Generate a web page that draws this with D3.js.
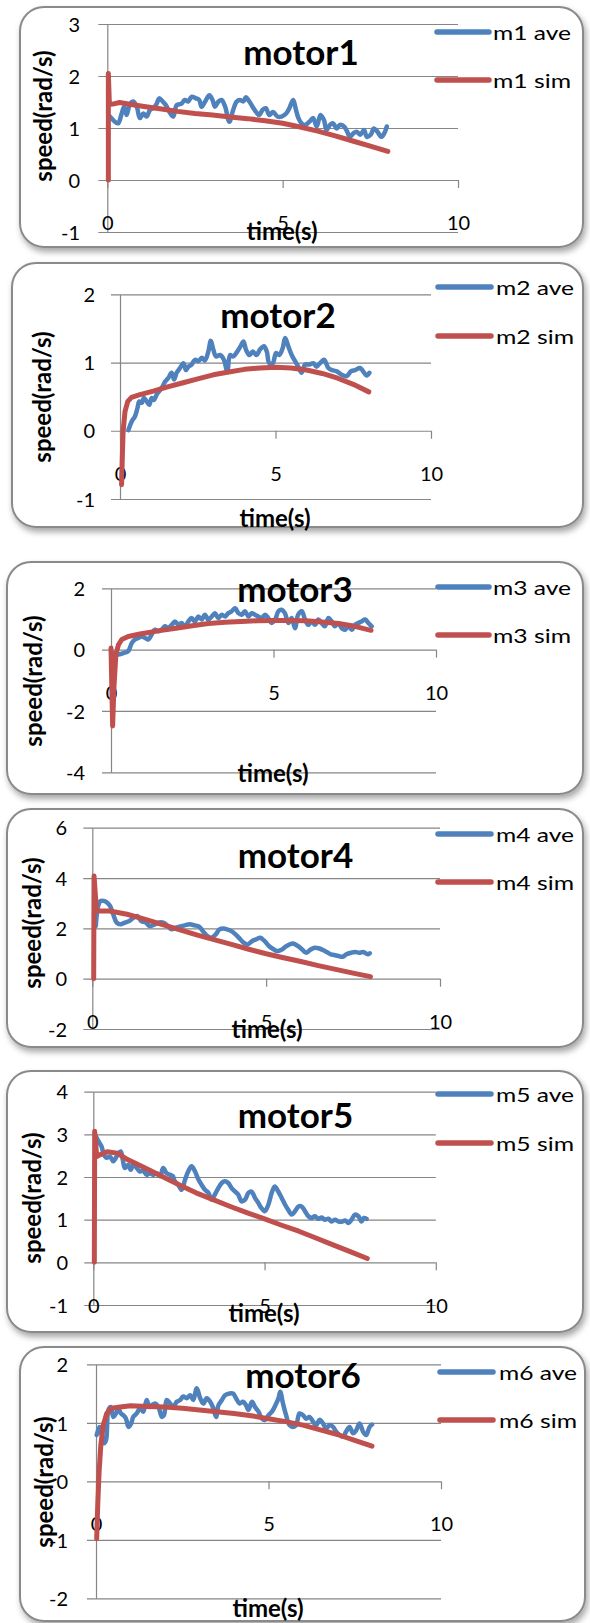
<!DOCTYPE html>
<html>
<head>
<meta charset="utf-8">
<script src="https://cdn.jsdelivr.net/npm/d3@7"></script>
<style>
  html, body { margin: 0; padding: 0; background: #fff; }
  svg { display: block; font-family: Lato, "Open Sans", sans-serif; }
</style>
</head>
<body>
<svg id="chart" width="590" height="1623"></svg>
<script>
// ---- data: time (s) / speed (rad/s) pairs per motor ----
const motorTitles = ["motor1", "motor2", "motor3", "motor4", "motor5", "motor6"];
const aveLabels = ["m1 ave", "m2 ave", "m3 ave", "m4 ave", "m5 ave", "m6 ave"];
const simLabels = ["m1 sim", "m2 sim", "m3 sim", "m4 sim", "m5 sim", "m6 sim"];
const xTicks = [0, 5, 10];
const yTicks1 = [-1, 0, 1, 2, 3];
const yTicks2 = [-1, 0, 1, 2];
const yTicks3 = [-4, -2, 0, 2];
const yTicks4 = [-2, 0, 2, 4, 6];
const yTicks5 = [-1, 0, 1, 2, 3, 4];
const yTicks6 = [-2, -1, 0, 1, 2];

const m1Ave = [[0.08,1.22],[0.22,1.12],[0.31,1.09],[0.41,1.28],[0.48,1.41],[0.55,1.25],[0.65,1.47],[0.74,1.51],[0.84,1.41],[0.93,1.19],[1.03,1.28],[1.12,1.22],[1.22,1.35],[1.31,1.38],[1.41,1.47],[1.48,1.57],[1.58,1.51],[1.67,1.44],[1.77,1.31],[1.88,1.22],[1.98,1.44],[2.12,1.47],[2.21,1.54],[2.31,1.51],[2.40,1.60],[2.53,1.57],[2.62,1.54],[2.69,1.41],[2.79,1.51],[2.91,1.63],[3.00,1.54],[3.07,1.41],[3.17,1.51],[3.26,1.54],[3.36,1.41],[3.48,1.12],[3.59,1.35],[3.69,1.51],[3.78,1.54],[3.88,1.51],[3.95,1.59],[4.05,1.51],[4.14,1.41],[4.24,1.31],[4.33,1.25],[4.43,1.35],[4.52,1.38],[4.62,1.25],[4.73,1.31],[4.85,1.22],[4.97,1.22],[5.10,1.28],[5.19,1.38],[5.30,1.54],[5.38,1.35],[5.45,1.19],[5.54,1.09],[5.64,1.06],[5.76,1.12],[5.87,1.19],[5.97,1.03],[6.08,1.25],[6.18,1.15],[6.25,0.96],[6.35,1.06],[6.44,1.09],[6.54,0.99],[6.63,1.06],[6.75,1.03],[6.84,0.93],[6.92,0.83],[7.02,0.90],[7.11,0.93],[7.21,0.87],[7.32,0.96],[7.40,0.83],[7.51,0.87],[7.60,0.99],[7.70,0.93],[7.82,0.83],[7.92,0.93],[7.97,1.03]];
const m1Sim = [[0.03,0],[0.03,2.05],[0.06,1.45],[0.15,1.46],[0.35,1.49],[0.6,1.46],[1,1.42],[1.5,1.37],[2,1.32],[2.5,1.28],[3,1.25],[3.5,1.21],[4,1.18],[4.5,1.14],[5,1.09],[5.5,1.02],[6,0.94],[6.5,0.85],[7,0.75],[7.5,0.65],[8,0.55]];

const m2Ave = [[0.27,0.01],[0.38,0.14],[0.48,0.21],[0.56,0.33],[0.62,0.43],[0.70,0.41],[0.77,0.48],[0.86,0.43],[0.94,0.38],[1.02,0.48],[1.09,0.45],[1.18,0.53],[1.26,0.58],[1.37,0.65],[1.45,0.72],[1.55,0.77],[1.66,0.85],[1.74,0.75],[1.82,0.85],[1.93,0.92],[2.04,0.99],[2.12,0.89],[2.20,0.94],[2.30,0.97],[2.41,1.04],[2.52,1.02],[2.63,1.07],[2.73,1.03],[2.84,1.16],[2.92,1.32],[3.00,1.19],[3.09,1.09],[3.22,1.11],[3.34,1.04],[3.45,0.87],[3.54,1.11],[3.64,1.09],[3.77,1.16],[3.88,1.24],[3.97,1.31],[4.05,1.19],[4.16,1.11],[4.27,1.16],[4.39,1.11],[4.50,1.19],[4.63,1.24],[4.72,1.16],[4.80,0.99],[4.91,0.99],[5.02,1.14],[5.12,1.11],[5.23,1.21],[5.31,1.36],[5.41,1.24],[5.52,1.11],[5.63,1.02],[5.73,0.94],[5.84,0.85],[5.95,0.97],[6.09,0.97],[6.22,0.99],[6.32,0.94],[6.43,0.99],[6.56,1.04],[6.70,0.92],[6.81,0.89],[6.97,0.87],[7.13,0.82],[7.29,0.80],[7.42,0.87],[7.56,0.89],[7.72,0.92],[7.82,0.87],[7.93,0.81],[8.02,0.85]];
const m2Sim = [[0.05,-0.79],[0.08,-0.30],[0.10,-0.01],[0.16,0.28],[0.25,0.43],[0.37,0.49],[0.64,0.53],[1.07,0.58],[1.5,0.64],[2,0.70],[2.5,0.76],[3,0.82],[3.5,0.86],[4,0.90],[4.5,0.92],[5,0.93],[5.5,0.92],[6,0.89],[6.5,0.84],[7,0.77],[7.5,0.68],[8,0.57]];

const m3Ave = [[0.10,-0.11],[0.23,-0.16],[0.38,-0.11],[0.53,-0.05],[0.64,0.22],[0.74,0.33],[0.84,0.38],[0.94,0.43],[1.05,0.38],[1.15,0.33],[1.25,0.49],[1.35,0.65],[1.46,0.60],[1.56,0.65],[1.66,0.76],[1.76,0.70],[1.87,0.81],[1.97,0.92],[2.07,0.81],[2.17,0.87],[2.28,0.76],[2.38,0.92],[2.48,1.03],[2.58,0.92],[2.69,1.08],[2.79,0.98],[2.89,1.14],[2.99,0.98],[3.10,1.08],[3.20,1.19],[3.30,1.03],[3.41,1.14],[3.51,1.08],[3.61,1.19],[3.71,1.25],[3.82,1.35],[3.92,1.19],[4.02,1.14],[4.12,1.25],[4.23,1.08],[4.33,1.19],[4.43,1.14],[4.53,1.08],[4.64,1.03],[4.74,1.14],[4.84,1.03],[4.94,0.87],[5.05,0.98],[5.15,1.25],[5.25,1.30],[5.35,1.19],[5.46,0.87],[5.56,1.03],[5.66,0.70],[5.76,1.14],[5.87,1.25],[5.97,0.98],[6.07,0.81],[6.17,0.92],[6.28,0.81],[6.38,0.98],[6.48,0.87],[6.58,0.76],[6.69,1.03],[6.79,0.92],[6.89,0.76],[6.99,0.87],[7.10,0.70],[7.20,0.65],[7.30,0.76],[7.41,0.65],[7.51,0.81],[7.61,0.87],[7.71,0.92],[7.82,0.98],[7.92,0.87],[8.02,0.76]];
const m3Sim = [[0,0.05],[0.05,-2.49],[0.09,-1.25],[0.15,-0.16],[0.23,0.16],[0.33,0.33],[0.53,0.43],[0.89,0.51],[1.5,0.62],[2,0.70],[2.5,0.78],[3,0.85],[3.5,0.89],[4,0.92],[4.5,0.94],[5,0.95],[5.5,0.95],[6,0.94],[6.5,0.90],[7,0.85],[7.5,0.76],[8,0.63]];

const m4Ave = [[0.10,2.09],[0.17,2.89],[0.24,3.09],[0.33,3.09],[0.43,3.02],[0.51,2.89],[0.60,2.56],[0.70,2.23],[0.81,2.16],[0.94,2.23],[1.06,2.29],[1.18,2.42],[1.29,2.49],[1.41,2.29],[1.54,2.23],[1.65,2.09],[1.80,2.16],[1.92,2.23],[2.04,2.23],[2.15,2.12],[2.28,1.96],[2.40,2.03],[2.51,2.07],[2.66,2.12],[2.80,2.16],[2.94,2.12],[3.07,2.07],[3.18,1.89],[3.30,1.70],[3.42,1.63],[3.55,1.76],[3.66,1.96],[3.78,1.99],[3.87,1.96],[4.00,1.89],[4.12,1.76],[4.24,1.59],[4.35,1.43],[4.47,1.36],[4.60,1.50],[4.71,1.56],[4.83,1.63],[4.95,1.50],[5.08,1.30],[5.19,1.19],[5.31,1.10],[5.43,1.14],[5.55,1.26],[5.67,1.36],[5.78,1.40],[5.91,1.30],[6.03,1.17],[6.15,1.03],[6.26,1.14],[6.39,1.23],[6.51,1.21],[6.63,1.14],[6.74,1.06],[6.86,0.97],[6.96,0.94],[7.08,0.90],[7.20,0.87],[7.31,0.97],[7.44,1.03],[7.56,1.06],[7.68,1.03],[7.79,1.06],[7.92,0.97],[7.98,1.01]];
const m4Sim = [[0.04,0],[0.05,4.08],[0.12,2.69],[0.5,2.69],[1,2.56],[1.5,2.37],[2,2.16],[2.5,1.95],[3,1.74],[3.5,1.55],[4,1.36],[4.5,1.17],[5,0.99],[5.5,0.83],[6,0.68],[6.5,0.52],[7,0.37],[7.5,0.22],[8,0.08]];

const m5Ave = [[0.05,2.99],[0.15,2.84],[0.24,2.72],[0.31,2.52],[0.39,2.45],[0.49,2.48],[0.58,2.37],[0.66,2.45],[0.73,2.56],[0.80,2.60],[0.86,2.41],[0.92,2.21],[1.02,2.29],[1.09,2.17],[1.17,2.29],[1.27,2.21],[1.36,2.13],[1.46,2.15],[1.56,2.05],[1.65,2.09],[1.75,2.05],[1.85,2.09],[1.95,2.02],[2.04,2.21],[2.14,2.09],[2.24,2.05],[2.32,2.02],[2.38,1.90],[2.48,1.82],[2.58,1.70],[2.68,1.94],[2.77,2.13],[2.87,2.25],[2.97,2.13],[3.07,1.94],[3.16,1.82],[3.26,1.70],[3.36,1.63],[3.45,1.47],[3.55,1.59],[3.65,1.74],[3.75,1.86],[3.84,1.90],[3.94,1.86],[4.04,1.74],[4.14,1.66],[4.23,1.59],[4.33,1.43],[4.43,1.47],[4.53,1.63],[4.62,1.66],[4.72,1.51],[4.82,1.39],[4.91,1.27],[5.01,1.20],[5.11,1.35],[5.21,1.63],[5.30,1.78],[5.40,1.66],[5.50,1.51],[5.60,1.35],[5.69,1.23],[5.79,1.12],[5.89,1.20],[5.99,1.31],[6.08,1.31],[6.18,1.20],[6.28,1.08],[6.37,1.04],[6.47,1.08],[6.57,1.02],[6.67,1.05],[6.76,1.00],[6.86,1.02],[6.96,0.96],[7.06,1.00],[7.15,0.96],[7.25,0.95],[7.35,0.98],[7.45,0.92],[7.54,1.00],[7.64,1.12],[7.74,1.08],[7.83,0.96],[7.90,1.04],[7.98,1.02]];
const m5Sim = [[0.03,0],[0.04,3.07],[0.10,2.48],[0.19,2.52],[0.4,2.59],[0.7,2.56],[1,2.41],[1.5,2.22],[2,2.02],[2.5,1.82],[3,1.63],[3.5,1.47],[4,1.31],[4.5,1.16],[5,1.02],[5.5,0.87],[6,0.73],[6.5,0.57],[7,0.41],[7.5,0.25],[8,0.09]];

const m6Ave = [[0.02,0.79],[0.10,0.93],[0.16,0.82],[0.23,0.65],[0.29,0.70],[0.36,1.22],[0.43,1.27],[0.50,1.10],[0.58,1.16],[0.65,1.25],[0.72,1.16],[0.79,1.13],[0.87,1.07],[0.94,0.93],[1.02,0.99],[1.08,1.10],[1.18,1.16],[1.28,1.25],[1.37,1.19],[1.47,1.39],[1.55,1.27],[1.62,1.30],[1.71,1.33],[1.81,1.27],[1.91,1.10],[1.97,1.13],[2.05,1.39],[2.15,1.33],[2.24,1.27],[2.34,1.36],[2.44,1.39],[2.53,1.45],[2.63,1.42],[2.73,1.47],[2.82,1.39],[2.92,1.59],[3.02,1.42],[3.11,1.33],[3.21,1.42],[3.31,1.36],[3.40,1.25],[3.48,1.10],[3.55,1.30],[3.65,1.39],[3.74,1.47],[3.87,1.50],[3.97,1.50],[4.06,1.42],[4.16,1.33],[4.26,1.36],[4.35,1.30],[4.42,1.22],[4.52,1.36],[4.61,1.27],[4.71,1.19],[4.81,1.07],[4.90,1.05],[5.00,1.13],[5.10,1.19],[5.20,1.30],[5.29,1.42],[5.34,1.53],[5.42,1.33],[5.51,1.13],[5.61,0.96],[5.71,0.93],[5.80,0.96],[5.90,1.16],[6.00,1.13],[6.09,1.07],[6.19,1.10],[6.29,1.02],[6.38,0.96],[6.48,1.05],[6.58,0.99],[6.67,0.90],[6.77,0.96],[6.87,0.93],[6.96,0.85],[7.06,0.79],[7.16,0.76],[7.25,0.85],[7.35,0.93],[7.45,0.82],[7.54,0.87],[7.64,0.99],[7.74,0.85],[7.83,0.79],[7.93,0.93],[8.00,0.97]];
const m6Sim = [[0.02,-0.98],[0.05,-0.41],[0.09,0.16],[0.14,0.62],[0.21,0.96],[0.31,1.16],[0.45,1.25],[0.70,1.27],[1,1.29],[1.5,1.28],[2,1.27],[2.5,1.25],[3,1.22],[3.5,1.19],[4,1.16],[4.5,1.12],[5,1.07],[5.5,1.02],[6,0.96],[6.5,0.88],[7,0.80],[7.5,0.70],[8,0.60]];

const aveSeries = [m1Ave, m2Ave, m3Ave, m4Ave, m5Ave, m6Ave];
const simSeries = [m1Sim, m2Sim, m3Sim, m4Sim, m5Sim, m6Sim];
const yTickSets = [yTicks1, yTicks2, yTicks3, yTicks4, yTicks5, yTicks6];

// ---- per-panel layout (pixels) ----
const layout = [
  { box: [20, 7, 563, 240],    px: [107.3, 458],  py: [232, 24],      yLab: 80, title: [301, 65],   xTitle: [282, 231],  yTitle: [43, 116],  leg: [32, 80],     legX: [437, 489, 493] },
  { box: [12, 263, 571, 264],  px: [120, 431],    py: [499, 294.3],   yLab: 95, title: [278, 328],  xTitle: [275, 518],  yTitle: [42, 397],  leg: [287, 336],   legX: [438, 491, 496] },
  { box: [7, 562, 576, 232],   px: [111, 436],    py: [772.3, 588.3], yLab: 85, title: [295, 602],  xTitle: [273, 773],  yTitle: [33, 681],  leg: [587, 635],   legX: [438, 489, 493] },
  { box: [7, 809, 576, 238],   px: [92.3, 440],   py: [1029, 827.7],  yLab: 67, title: [295.5, 868],xTitle: [267, 1029], yTitle: [32, 923],  leg: [834, 882],   legX: [438, 491, 496] },
  { box: [7, 1071, 576, 261],  px: [93.3, 435.8], py: [1305, 1091.7], yLab: 68, title: [295.5, 1128],xTitle: [264, 1313],yTitle: [32, 1198], leg: [1094, 1143], legX: [438, 491, 496] },
  { box: [20, 1347, 565, 274], px: [96, 441],     py: [1598.3, 1364.3],yLab: 68, title: [303, 1388], xTitle: [268, 1608], yTitle: [44, 1482], leg: [1372, 1420], legX: [440, 493, 499] }
];

const BLUE = "#4f81bd", RED = "#c0504d", GRID = "#868686";

const svg = d3.select("#chart");

const defs = svg.append("defs");
const shadow = defs.append("filter").attr("id", "boxShadow")
  .attr("x", "-5%").attr("y", "-5%").attr("width", "112%").attr("height", "115%");
shadow.append("feDropShadow").attr("dx", 2).attr("dy", 4).attr("stdDeviation", 3)
  .attr("flood-color", "#000").attr("flood-opacity", 0.35);

layout.forEach((L, i) => {
  const g = svg.append("g");
  const yTicks = yTickSets[i];

  // chart frame
  g.append("rect")
    .attr("x", L.box[0]).attr("y", L.box[1])
    .attr("width", L.box[2]).attr("height", L.box[3])
    .attr("rx", 24).attr("ry", 24)
    .attr("fill", "#fff").attr("stroke", "#8a8a8a").attr("stroke-width", 2)
    .attr("filter", "url(#boxShadow)");

  const x = d3.scaleLinear().domain([0, 10]).range(L.px);
  const y = d3.scaleLinear().domain(d3.extent(yTicks)).range(L.py);
  const plotW = L.px[1] - L.px[0];

  // value axis with gridlines
  const yAxis = g.append("g")
    .attr("transform", `translate(${L.px[0]},0)`)
    .call(d3.axisLeft(y).tickValues(yTicks).tickSizeOuter(0).tickFormat(d => String(d)));
  yAxis.select(".domain").attr("stroke", GRID).attr("stroke-width", 1.2);
  yAxis.selectAll(".tick line")
    .attr("x1", -9).attr("x2", plotW)
    .attr("stroke", GRID).attr("stroke-width", 1.2);
  yAxis.selectAll(".tick text")
    .attr("x", L.yLab - L.px[0]).attr("dy", "0.36em")
    .attr("fill", "#000").style("font-size", "20px").style("font-family", "Lato, sans-serif");

  // time axis crossing at zero
  const xAxis = g.append("g")
    .attr("transform", `translate(0,${y(0)})`)
    .call(d3.axisBottom(x).tickValues(xTicks).tickSize(8).tickSizeOuter(0).tickFormat(d => String(d)));
  xAxis.select(".domain").remove();
  xAxis.selectAll(".tick line").attr("stroke", GRID).attr("stroke-width", 1.2);
  xAxis.selectAll(".tick text")
    .attr("y", 43).attr("dy", "0.36em")
    .attr("fill", "#000").style("font-size", "20px").style("font-family", "Lato, sans-serif");

  // series
  const lineAve = d3.line().x(d => x(d[0])).y(d => y(d[1])).curve(d3.curveCatmullRom.alpha(0.5));
  const lineSim = d3.line().x(d => x(d[0])).y(d => y(d[1]));
  g.append("path").datum(aveSeries[i])
    .attr("d", lineAve).attr("fill", "none").attr("stroke", BLUE)
    .attr("stroke-width", 4.5).attr("stroke-linejoin", "round").attr("stroke-linecap", "round");
  g.append("path").datum(simSeries[i])
    .attr("d", lineSim).attr("fill", "none").attr("stroke", RED)
    .attr("stroke-width", 5).attr("stroke-linejoin", "round").attr("stroke-linecap", "round");

  // titles
  g.append("text").attr("x", L.title[0]).attr("y", L.title[1])
    .attr("text-anchor", "middle").style("font-weight", 700).style("font-size", "35px")
    .text(motorTitles[i]);
  g.append("text").attr("x", L.xTitle[0]).attr("y", L.xTitle[1]).attr("dy", "0.36em")
    .attr("text-anchor", "middle").style("font-weight", 700).style("font-size", "24px")
    .text("time(s)");
  g.append("text")
    .attr("transform", `translate(${L.yTitle[0]},${L.yTitle[1]}) rotate(-90)`)
    .attr("dy", "0.36em")
    .attr("text-anchor", "middle").style("font-weight", 700).style("font-size", "24px")
    .text("speed(rad/s)");

  // legend
  const entries = [[aveLabels[i], BLUE, L.leg[0]], [simLabels[i], RED, L.leg[1]]];
  entries.forEach(([label, color, ly]) => {
    g.append("line").attr("x1", L.legX[0]).attr("x2", L.legX[1])
      .attr("y1", ly).attr("y2", ly)
      .attr("stroke", color).attr("stroke-width", 5.5).attr("stroke-linecap", "round");
    g.append("text").attr("x", L.legX[2]).attr("y", ly).attr("dy", "0.4em")
      .attr("textLength", 78).attr("lengthAdjust", "spacingAndGlyphs")
      .style("font-size", "20px").text(label);
  });
});
</script>
</body>
</html>
